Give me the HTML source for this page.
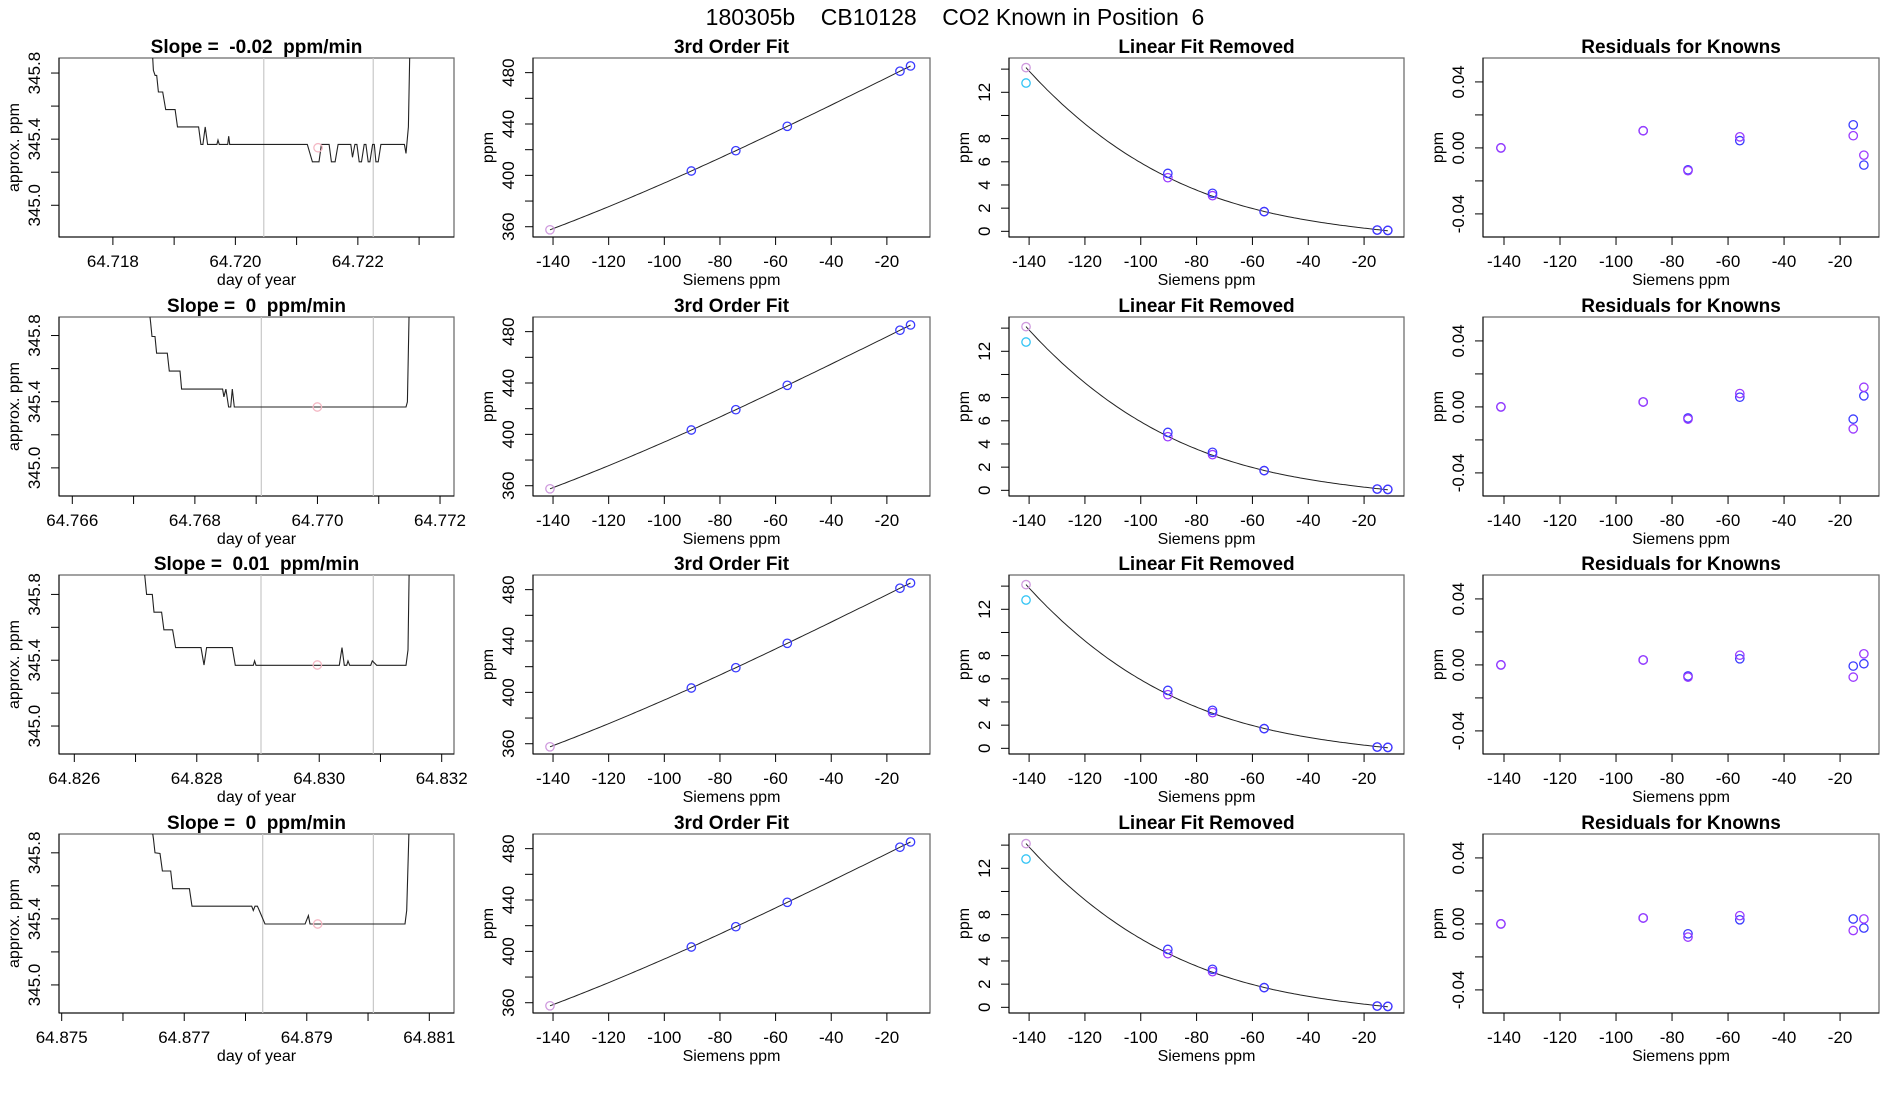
<!DOCTYPE html>
<html><head><meta charset="utf-8"><title>CO2 Known in Position 6</title>
<style>html,body{margin:0;padding:0;background:#fff}svg{display:block}text{font-family:"Liberation Sans",Arial,sans-serif;white-space:pre}</style>
</head><body>
<svg id="chart" width="1900" height="1100" viewBox="0 0 1900 1100" xmlns="http://www.w3.org/2000/svg">
<rect width="1900" height="1100" fill="#fff"/>
<text x="955" y="25" text-anchor="middle" font-size="23" xml:space="preserve">180305b    CB10128    CO2 Known in Position  6</text>
</svg>
<script>
// ---------- data ----------
const slopeLabels = ["-0.02","0","0.01","0"];
const r1Day = [64.718634,64.718661,64.718689,64.718716,64.718743,64.718814,64.718863,64.719016,64.719055,64.719399,64.719437,64.719470,64.719508,64.719546,64.719699,64.719716,64.719738,64.719874,64.719891,64.719907,64.721175,64.721257,64.721366,64.721404,64.721530,64.721568,64.721628,64.721678,64.721885,64.721913,64.721951,64.721984,64.722022,64.722060,64.722104,64.722131,64.722169,64.722197,64.722240,64.722268,64.722295,64.722333,64.722377,64.722760,64.722787,64.722825,64.722852];
const r1Ppm = [346.0,345.816,345.786,345.786,345.685,345.685,345.579,345.579,345.474,345.474,345.368,345.368,345.474,345.368,345.368,345.394,345.368,345.368,345.418,345.368,345.368,345.263,345.263,345.368,345.368,345.263,345.263,345.368,345.368,345.290,345.368,345.368,345.263,345.263,345.368,345.368,345.263,345.263,345.368,345.368,345.263,345.263,345.368,345.368,345.314,345.474,346.0];
const r2Day = [64.767240,64.767278,64.767300,64.767349,64.767376,64.767550,64.767583,64.767757,64.767784,64.768453,64.768474,64.768507,64.768551,64.768584,64.768611,64.768644,64.771445,64.771467,64.771499];
const r2Ppm = [346.0,345.88,345.794,345.794,345.693,345.693,345.585,345.585,345.476,345.476,345.429,345.476,345.368,345.368,345.476,345.368,345.368,345.399,346.0];
const r3Day = [64.827127,64.827154,64.827181,64.827274,64.827301,64.827426,64.827464,64.827606,64.827655,64.828069,64.828118,64.828161,64.828580,64.828629,64.828923,64.828945,64.828967,64.830328,64.830372,64.830410,64.830448,64.830470,64.830497,64.830840,64.830867,64.830938,64.831417,64.831449,64.831471];
const r3Ppm = [346.0,345.9,345.8,345.8,345.692,345.692,345.585,345.585,345.477,345.477,345.371,345.477,345.477,345.369,345.369,345.396,345.369,345.369,345.477,345.369,345.369,345.396,345.369,345.369,345.396,345.369,345.369,345.463,346.0];
const r4Day = [64.876453,64.876496,64.876523,64.876605,64.876643,64.876779,64.876812,64.877084,64.877127,64.878101,64.878128,64.878155,64.878194,64.878226,64.878319,64.878972,64.879026,64.879053,64.880604,64.880631,64.880674];
const r4Ppm = [346.0,345.887,345.8,345.796,345.690,345.690,345.583,345.583,345.477,345.477,345.451,345.477,345.477,345.451,345.369,345.369,345.420,345.369,345.369,345.451,346.0];
const grayLines = [[64.720464,64.722251],[64.769084,64.770912],[64.829049,64.830883],[64.878281,64.880087]];
const pinkDay = [64.72135,64.769998,64.829969,64.879178];
const pinkPpm = [345.348,345.368,345.371,345.369];
const dayDomains = [[64.71712,64.72357],[64.765783,64.772228],[64.82575,64.832201],[64.874956,64.881403]];
const ppmDomains = [[344.808,345.891],[344.83,345.912],[344.83,345.918],[344.83,345.914]];
const dayTicks = [[64.718,64.719,64.720,64.721,64.722,64.723],[64.766,64.767,64.768,64.769,64.770,64.771,64.772],[64.826,64.827,64.828,64.829,64.830,64.831,64.832],[64.875,64.876,64.877,64.878,64.879,64.880,64.881]];
const dayTickLabels = [["64.718","64.720","64.722"],["64.766","64.768","64.770","64.772"],["64.826","64.828","64.830","64.832"],["64.875","64.877","64.879","64.881"]];
const ppmTicks = [345.0,345.2,345.4,345.6,345.8];
const ppmTickLabels = ["345.0","345.4","345.8"];

const siemensX = [-141.1,-90.3,-74.3,-55.8,-15.3,-11.5];
const fitY = [357.6,403.4,419.2,438.2,481.1,485.2];
const linBlue = [12.8,5.0,3.28,1.70,0.11,0.08];
const linPurple = [14.13,4.63,3.08,1.70,0.11,0.08];
const resBlue = [[0,0.0104,-0.0133,0.0044,0.014,-0.0104],[0,0.003,-0.0067,0.0059,-0.0074,0.0067],[0,0.003,-0.0067,0.0037,-0.0007,0.0007],[0,0.0036,-0.006,0.0025,0.003,-0.0025]];
const resPurple = [[0,0.0104,-0.0138,0.0067,0.0074,-0.0044],[0,0.003,-0.0074,0.0081,-0.0133,0.0119],[0,0.003,-0.0074,0.0059,-0.0074,0.0067],[0,0.0036,-0.008,0.005,-0.004,0.003]];
const siemensTicks = [-140,-120,-100,-80,-60,-40,-20];
const fitTicks = [360,380,400,420,440,460,480];
const fitTickLabels = ["360","400","440","480"];
const linTicks = [0,2,4,6,8,10,12,14];
const linTickLabels = ["0","2","4","6","8","12"];
const resTicks = [-0.04,-0.02,0,0.02,0.04];
const resTickLabels = ["-0.04","0.00","0.04"];

// ---------- drawing ----------
const NS = "http://www.w3.org/2000/svg";
const svg = document.getElementById("chart");
function mk(tag, attrs, parent){ const e=document.createElementNS(NS,tag); for(const k in attrs) e.setAttribute(k,attrs[k]); (parent||svg).appendChild(e); return e; }
const colX = [59,533,1009,1483], colW = [395,397,395,396];
const rowY = [58,317,575,834], H = 179;
const BLUE="#3b3bff", PURPLE="#9b3bff", PLUM="#cf9ade", CYAN="#33c4f5";

function scale(d0,d1,r0,r1){ return v => r0 + (v-d0)/(d1-d0)*(r1-r0); }
function fmt(v){ return String(v); }

function panel(r,c,xd,yd,title,xlab,ylab,xt,xtl,yt,ytl){
  const g = mk("g",{});
  
  
  const x0=colX[c], y0=rowY[r], w=colW[c];
  const sx=scale(xd[0],xd[1],x0,x0+w), sy=scale(yd[0],yd[1],y0+H,y0);
  const box=mk("rect",{x:x0,y:y0,width:w,height:H,fill:"none",stroke:"#707070","stroke-width":1.3},g);
  
  
  const t=mk("text",{x:x0+w/2,y:y0-5,"text-anchor":"middle","font-size":19,"font-weight":"bold"},g);
  t.setAttributeNS("http://www.w3.org/XML/1998/namespace","xml:space","preserve");
  t.textContent=title;
  
  
  const xa=mk("g",{},g);
  
  
  mk("line",{x1:x0,x2:x0+w,y1:y0+H,y2:y0+H,stroke:"#000","stroke-width":1},xa);
  xt.forEach(v=>{ const p=sx(v); mk("line",{x1:p,x2:p,y1:y0+H,y2:y0+H+8,stroke:"#000","stroke-width":1},xa); });
  xtl.forEach(s=>{ const p=sx(parseFloat(s)); const tx=mk("text",{x:p,y:y0+H+30,"text-anchor":"middle","font-size":17},xa); tx.textContent=s;
    
     });
  const xl=mk("text",{x:x0+w/2,y:y0+H+48,"text-anchor":"middle","font-size":16},g); xl.textContent=xlab;
  
  
  const ya=mk("g",{},g);
  
  
  mk("line",{x1:x0,x2:x0,y1:y0,y2:y0+H,stroke:"#000","stroke-width":1},ya);
  yt.forEach(v=>{ const p=sy(v); mk("line",{x1:x0-8,x2:x0,y1:p,y2:p,stroke:"#000","stroke-width":1},ya); });
  ytl.forEach(s=>{ const p=sy(parseFloat(s)); const tx=mk("text",{x:x0-19,y:p,"text-anchor":"middle","font-size":17,transform:"rotate(-90 "+(x0-19)+" "+p+")"},ya); tx.textContent=s;
    
     });
  const yl=mk("text",{x:x0-40,y:y0+H/2,"text-anchor":"middle","font-size":16,transform:"rotate(-90 "+(x0-40)+" "+(y0+H/2)+")"},g); yl.textContent=ylab;
  
  
  const clipId="clip"+r+"_"+c;
  const cp=mk("clipPath",{id:clipId},g); mk("rect",{x:x0,y:y0,width:w,height:H},cp);
  const plot=mk("g",{"clip-path":"url(#"+clipId+")"},g);
  return {sx,sy,plot};
}
function circle(p,cx,cy,col,name){
  const c=mk("circle",{cx:cx,cy:cy,r:4.2,fill:"none",stroke:col,"stroke-width":1.3},p);
  
  
}
function cubicFit(xs,ys){
  const n=4, A=[...Array(n)].map(()=>Array(n+1).fill(0));
  xs.forEach((x,i)=>{ const t=x/100; const pw=[1,t,t*t,t*t*t];
    for(let a=0;a<n;a++){ for(let b=0;b<n;b++) A[a][b]+=pw[a]*pw[b]; A[a][n]+=pw[a]*ys[i]; } });
  for(let i=0;i<n;i++){ let m=i; for(let k=i+1;k<n;k++) if(Math.abs(A[k][i])>Math.abs(A[m][i])) m=k; [A[i],A[m]]=[A[m],A[i]];
    for(let k=0;k<n;k++){ if(k===i) continue; const f=A[k][i]/A[i][i]; for(let j=i;j<=n;j++) A[k][j]-=f*A[i][j]; } }
  const co=A.map((row,i)=>row[n]/row[i]);
  return x=>{ const t=x/100; return co[0]+co[1]*t+co[2]*t*t+co[3]*t*t*t; };
}
const fitCurve = cubicFit(siemensX, fitY);
const linCurve = cubicFit(siemensX, linPurple);
function curvePath(P,f){
  let d=""; const a=siemensX[0], b=siemensX[siemensX.length-1];
  for(let i=0;i<=120;i++){ const x=a+(b-a)*i/120; d+=(i?"L":"M")+P.sx(x).toFixed(1)+","+P.sy(f(x)).toFixed(1); }
  return d;
}

const rowsDay=[r1Day,r2Day,r3Day,r4Day], rowsPpm=[r1Ppm,r2Ppm,r3Ppm,r4Ppm];
for(let r=0;r<4;r++){
  let P=panel(r,0,dayDomains[r],ppmDomains[r],"Slope =  "+slopeLabels[r]+"  ppm/min","day of year","approx. ppm",dayTicks[r],dayTickLabels[r],ppmTicks,ppmTickLabels);
  grayLines[r].forEach(v=>{ const l=mk("line",{x1:P.sx(v),x2:P.sx(v),y1:rowY[r],y2:rowY[r]+H,stroke:"#c8c8c8","stroke-width":1.2},P.plot);
    
     });
  const ln=mk("path",{d:rowsDay[r].map((d,i)=>(i?"L":"M")+P.sx(d).toFixed(1)+","+P.sy(rowsPpm[r][i]).toFixed(1)).join(""),fill:"none",stroke:"#222","stroke-width":1.1},P.plot);
  
  
  circle(P.plot,P.sx(pinkDay[r]),P.sy(pinkPpm[r]),"#f4b8c4","mean-marker");
  P=panel(r,1,[-147.2,-4.5],[352,491.4],"3rd Order Fit","Siemens ppm","ppm",siemensTicks,siemensTicks.map(fmt),fitTicks,fitTickLabels);
  let cv=mk("path",{d:curvePath(P,fitCurve),fill:"none",stroke:"#222","stroke-width":1},P.plot);
  
  
  siemensX.forEach((x,i)=>circle(P.plot,P.sx(x),P.sy(fitY[i]),i===0?PLUM:BLUE,"fit-point"));
  P=panel(r,2,[-147.2,-5.7],[-0.49,14.96],"Linear Fit Removed","Siemens ppm","ppm",siemensTicks,siemensTicks.map(fmt),linTicks,linTickLabels);
  cv=mk("path",{d:curvePath(P,linCurve),fill:"none",stroke:"#222","stroke-width":1},P.plot);
  
  
  siemensX.forEach((x,i)=>circle(P.plot,P.sx(x),P.sy(linPurple[i]),i===0?PLUM:PURPLE,"purple-point"));
  siemensX.forEach((x,i)=>circle(P.plot,P.sx(x),P.sy(linBlue[i]),i===0?CYAN:BLUE,"blue-point"));
  P=panel(r,3,[-147.5,-6.1],[-0.054,0.0545],"Residuals for Knowns","Siemens ppm","ppm",siemensTicks,siemensTicks.map(fmt),resTicks,resTickLabels);
  siemensX.forEach((x,i)=>circle(P.plot,P.sx(x),P.sy(resBlue[r][i]),BLUE,"residual-blue"));
  siemensX.forEach((x,i)=>circle(P.plot,P.sx(x),P.sy(resPurple[r][i]),PURPLE,"residual-purple"));
}
</script>
</body></html>
